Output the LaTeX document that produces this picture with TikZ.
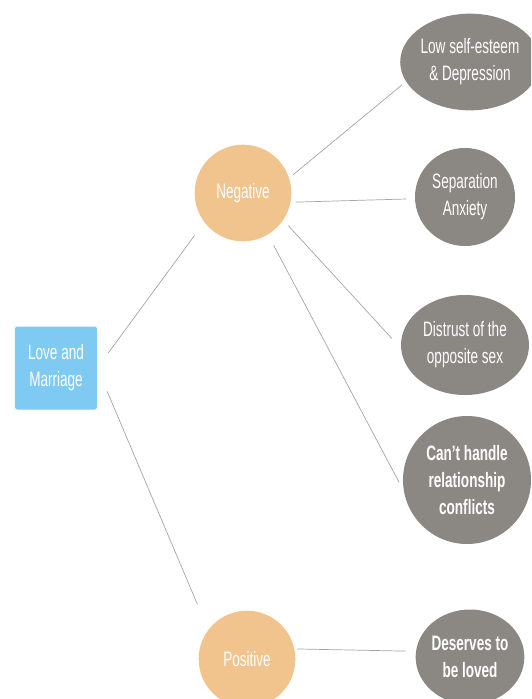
\documentclass[tikz,border=0pt]{standalone}
\usepackage{xcolor}
\usepackage{fontspec}
\setmainfont[FakeStretch=0.65]{Liberation Sans}
\usepackage{tikz}
\usetikzlibrary{shapes.geometric}

\definecolor{rootblue}{RGB}{126,202,242}
\definecolor{branchorange}{RGB}{240,196,140}
\definecolor{leafgray}{RGB}{139,135,131}
\definecolor{linkgray}{RGB}{165,165,165}

\newcommand{\labelfont}{\fontsize{17.8}{23}\selectfont}

\begin{document}
\begin{tikzpicture}[x=0.03cm,y=-0.03cm]

\tikzset{
    rootbox/.style={
        fill=rootblue,
        rounded corners=2pt,
        minimum width=2.46cm,
        minimum height=2.49cm,
        inner sep=0pt,
        text=white,
        font=\labelfont,
        align=center
    },
    branchnode/.style={
        circle,
        fill=branchorange,
        minimum size=2.9cm,
        inner sep=0pt,
        text=white,
        font=\labelfont
    },
    leafnode/.style={
        ellipse,
        fill=leafgray,
        inner sep=0pt,
        text=white,
        font=\labelfont,
        align=center
    },
    link/.style={
        draw=linkgray,
        line width=0.6pt
    }
}

\useasboundingbox (0,0) rectangle (531,699);
\clip (0,0) rectangle (531,699);

% Root
\node[rootbox] (lm) at (56,368) {Love and\\Marriage};

% Branches
\node[branchnode] (neg) at (243,193) {Negative};
\node[branchnode] (pos) at (247,659) {Positive};

% Leaves
\node[leafnode, minimum width=3.6cm, minimum height=2.9cm] (low) at (470,62)
    {Low self-esteem\\\& Depression};
\node[leafnode, minimum width=3.0cm, minimum height=2.94cm] (sep) at (465,197)
    {Separation\\Anxiety};
\node[leafnode, minimum width=3.84cm, minimum height=3.0cm] (dist) at (465,345)
    {Distrust of the\\opposite sex};
\node[leafnode, minimum width=3.84cm, minimum height=3.84cm, font=\labelfont\bfseries] (cant) at (467,480)
    {Can’t handle\\relationship\\conflicts};
\node[leafnode, minimum width=2.85cm, minimum height=2.85cm, font=\labelfont\bfseries] (des) at (470,657)
    {Deserves to\\be loved};

% Links
\draw[link, shorten <=0.56cm, shorten >=0.49cm] (lm.east) -- (neg.217);
\draw[link, shorten <=0.76cm, shorten >=0.83cm] (lm.east) -- (pos.143);

\draw[link, shorten <=0.16cm, shorten >=0.15cm] (neg.18) -- (low.197);
\draw[link, shorten <=0.15cm, shorten >=0.26cm] (neg.-11) -- (sep.182);
\draw[link, shorten <=0.22cm, shorten >=0.40cm] (neg.-34) -- (dist.183);
\draw[link, shorten <=0.36cm, shorten >=0.30cm] (neg.-59) -- (cant.190);

\draw[link, shorten <=0.08cm, shorten >=0.30cm] (pos.12) -- (des.174);

\end{tikzpicture}
\end{document}
